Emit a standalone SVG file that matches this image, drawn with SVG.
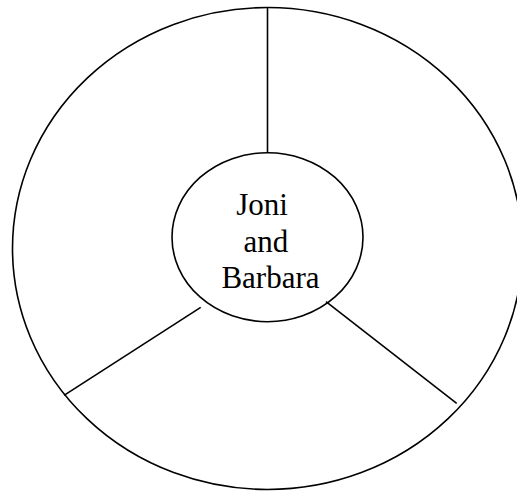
<svg xmlns="http://www.w3.org/2000/svg" width="517" height="492" viewBox="0 0 517 492">
<style>
.s{fill:none;stroke:#000;stroke-width:1.6}
.t{font-family:"Liberation Serif","Times New Roman",serif;font-size:31px;fill:#000;text-anchor:middle}
</style>
<rect width="517" height="492" fill="#fff"/>
<g id="outer"><ellipse class="s" cx="267.5" cy="248.5" rx="255" ry="241"/></g>
<g id="connectors">
<line class="s" x1="267.5" y1="7.5" x2="267.5" y2="152.7"/>
<line class="s" x1="200.7" y1="307.3" x2="64" y2="395.3"/>
<line class="s" x1="326" y1="301.7" x2="456.7" y2="403.3"/>
</g>
<g id="center">
<ellipse class="s" cx="267.5" cy="237.2" rx="95.5" ry="84.5"/>
<text class="t" x="262" y="215">Joni</text>
<text class="t" x="266" y="251.7">and</text>
<text class="t" x="270.5" y="288.3">Barbara</text>
</g>
</svg>
